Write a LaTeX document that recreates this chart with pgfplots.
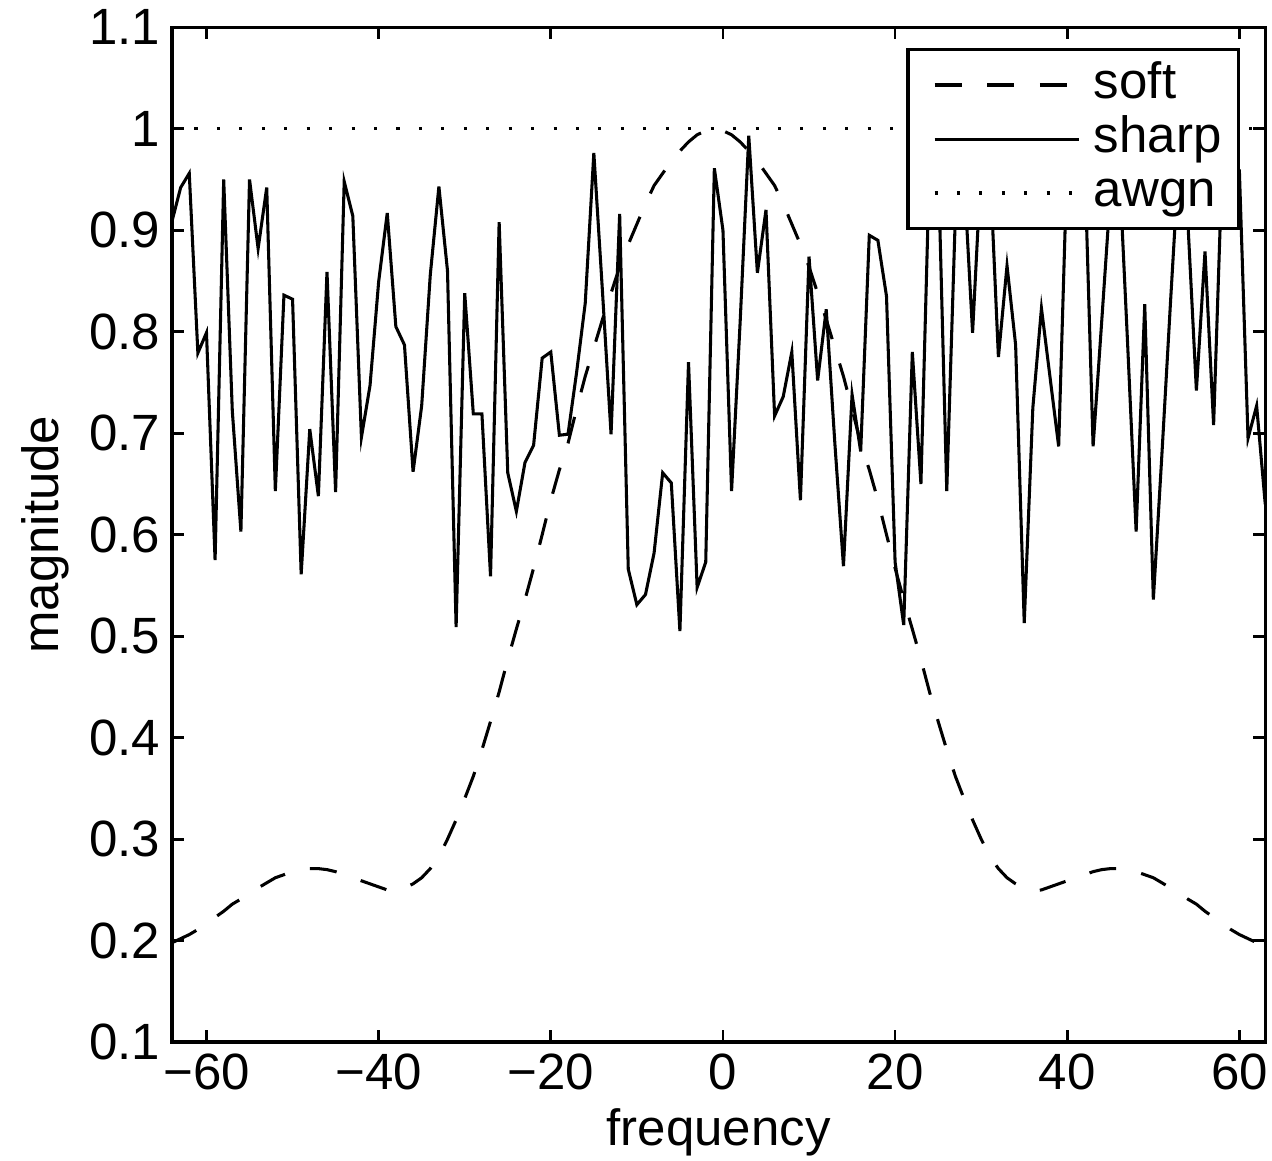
\documentclass[border=0pt]{standalone}
\usepackage{fontspec}
\setmainfont{Liberation Sans}
\usepackage{pgfplots}
\pgfplotsset{compat=1.18}
\begin{document}
\begin{tikzpicture}
\useasboundingbox (-50.6pt,-34.7pt) rectangle (323.5pt,306.5pt);
\begin{axis}[
  at={(0pt,0pt)}, anchor=south west,
  scale only axis, width=321.5pt, height=298.5pt,
  xmin=-64, xmax=63, ymin=0.1, ymax=1.1,
  xtick={-60,-40,-20,0,20,40,60},
  xticklabels={−60,−40,−20,0,20,40,60},
  ytick={0.1,0.2,0.3,0.4,0.5,0.6,0.7,0.8,0.9,1,1.1},
  yticklabels={0.1,0.2,0.3,0.4,0.5,0.6,0.7,0.8,0.9,1,1.1},
  tick align=inside, major tick length=3.5pt,
  axis line style={line width=1pt},
  every tick/.style={line width=0.8pt, black},
  font=\fontsize{15}{17}\selectfont,
  xlabel={frequency}, ylabel={magnitude},
  xlabel style={at={(axis description cs:0.5,0)}, anchor=center, yshift=-26.5pt},
  ylabel style={at={(axis description cs:-0.1162,0.5)}, anchor=center},
  legend cell align=left,
  legend image code/.code={\path (0pt,0pt) (48.7pt,0pt); \draw[#1] (3.8pt,0pt) -- (46.4pt,0pt);},
  legend style={at={(1,1)}, anchor=north east, xshift=-7.4pt, yshift=-6.2pt,
    draw=black, line width=0.9pt, fill=white, font=\fontsize{15}{17}\selectfont,
    inner xsep=3.5pt, inner ysep=2.4pt,
    nodes={inner xsep=1.5pt, inner ysep=1.05pt, text height=10.8pt, text depth=3pt}},
]
\addplot[black, line width=0.9pt, dash pattern=on 8pt off 7.5pt] coordinates {
(-64,0.198) (-63,0.202) (-62,0.206) (-61,0.211) (-60,0.217) (-59,0.223) (-58,0.229) (-57,0.236)
(-56,0.241) (-55,0.247) (-54,0.252) (-53,0.257) (-52,0.262) (-51,0.265) (-50,0.268) (-49,0.270)
(-48,0.271) (-47,0.271) (-46,0.270) (-45,0.268) (-44,0.265) (-43,0.262) (-42,0.259) (-41,0.256)
(-40,0.253) (-39,0.250) (-38,0.249) (-37,0.252) (-36,0.256) (-35,0.262) (-34,0.271) (-33,0.283)
(-32,0.300) (-31,0.319) (-30,0.340) (-29,0.362) (-28,0.388) (-27,0.416) (-26,0.445) (-25,0.477)
(-24,0.507) (-23,0.536) (-22,0.567) (-21,0.600) (-20,0.634) (-19,0.664) (-18,0.690) (-17,0.724)
(-16,0.756) (-15,0.784) (-14,0.812) (-13,0.838) (-12,0.864) (-11,0.886) (-10,0.906) (-9,0.926)
(-8,0.944) (-7,0.956) (-6,0.968) (-5,0.978) (-4,0.987) (-3,0.994) (-2,0.998) (-1,1.000)
(0,0.998) (1,0.994) (2,0.987) (3,0.978) (4,0.968) (5,0.956) (6,0.944) (7,0.926)
(8,0.906) (9,0.886) (10,0.864) (11,0.838) (12,0.812) (13,0.784) (14,0.756) (15,0.724)
(16,0.690) (17,0.664) (18,0.634) (19,0.600) (20,0.567) (21,0.536) (22,0.507) (23,0.477)
(24,0.445) (25,0.416) (26,0.388) (27,0.362) (28,0.340) (29,0.319) (30,0.300) (31,0.283)
(32,0.271) (33,0.262) (34,0.256) (35,0.252) (36,0.249) (37,0.250) (38,0.253) (39,0.256)
(40,0.259) (41,0.262) (42,0.265) (43,0.268) (44,0.270) (45,0.271) (46,0.271) (47,0.270)
(48,0.268) (49,0.265) (50,0.262) (51,0.257) (52,0.252) (53,0.247) (54,0.241) (55,0.236)
(56,0.229) (57,0.223) (58,0.217) (59,0.211) (60,0.206) (61,0.202) (62,0.198) (63,0.195)
};
\addlegendentry{soft}
\addplot[black, line width=0.9pt] coordinates {
(-64,0.909) (-63,0.942) (-62,0.956) (-61,0.779) (-60,0.799) (-59,0.575) (-58,0.950) (-57,0.722)
(-56,0.603) (-55,0.950) (-54,0.882) (-53,0.942) (-52,0.643) (-51,0.836) (-50,0.832) (-49,0.561)
(-48,0.704) (-47,0.638) (-46,0.859) (-45,0.642) (-44,0.948) (-43,0.914) (-42,0.696) (-41,0.747)
(-40,0.849) (-39,0.917) (-38,0.805) (-37,0.787) (-36,0.662) (-35,0.727) (-34,0.856) (-33,0.943)
(-32,0.860) (-31,0.509) (-30,0.838) (-29,0.719) (-28,0.719) (-27,0.559) (-26,0.908) (-25,0.661)
(-24,0.623) (-23,0.671) (-22,0.688) (-21,0.774) (-20,0.780) (-19,0.698) (-18,0.699) (-17,0.760)
(-16,0.828) (-15,0.976) (-14,0.840) (-13,0.699) (-12,0.916) (-11,0.566) (-10,0.531) (-9,0.541)
(-8,0.582) (-7,0.661) (-6,0.651) (-5,0.505) (-4,0.770) (-3,0.548) (-2,0.573) (-1,0.961)
(0,0.900) (1,0.643) (2,0.810) (3,0.993) (4,0.858) (5,0.920) (6,0.717) (7,0.736)
(8,0.780) (9,0.634) (10,0.874) (11,0.752) (12,0.822) (13,0.690) (14,0.569) (15,0.738)
(16,0.682) (17,0.895) (18,0.890) (19,0.835) (20,0.573) (21,0.511) (22,0.780) (23,0.650)
(24,0.967) (25,0.969) (26,0.643) (27,0.915) (28,0.955) (29,0.799) (30,0.965) (31,0.967)
(32,0.775) (33,0.865) (34,0.787) (35,0.513) (36,0.725) (37,0.823) (38,0.755) (39,0.687)
(40,0.973) (41,0.950) (42,0.975) (43,0.687) (44,0.810) (45,0.935) (46,0.970) (47,0.790)
(48,0.603) (49,0.827) (50,0.536) (51,0.680) (52,0.830) (53,0.975) (54,0.910) (55,0.742)
(56,0.879) (57,0.708) (58,0.966) (59,0.950) (60,0.957) (61,0.695) (62,0.727) (63,0.630)
};
\addlegendentry{sharp}
\addplot[black, line width=1pt, dash pattern=on 0.9pt off 5.7pt] coordinates {(-64,1) (63,1)};
\addlegendentry{awgn}
\end{axis}
\end{tikzpicture}
\end{document}
